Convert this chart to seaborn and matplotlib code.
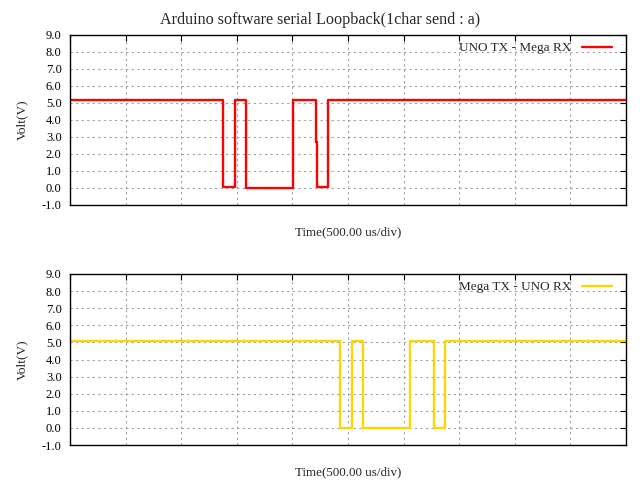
import matplotlib
matplotlib.use("Agg")
import matplotlib.pyplot as plt
import seaborn as sns
import numpy as np

# transition points of each trace (time in us, volts), step-post
uno_tx_t = [0, 1379, 1487, 1585, 2008, 2215, 2224, 2323, 5000]
uno_tx_v = [5.2, 0.05, 5.2, -0.02, 5.2, 2.7, 0.05, 5.2, 5.2]

mega_tx_t = [0, 2431, 2539, 2638, 3060, 3271, 3276, 3375, 5000]
mega_tx_v = [5.1, 0.02, 5.1, 0.0, 5.1, 0.8, 0.0, 5.1, 5.1]

traces = [
    ("UNO TX - Mega RX", uno_tx_t, uno_tx_v, "#ff0000"),
    ("Mega TX - UNO RX", mega_tx_t, mega_tx_v, "#ffd700"),
]

sns.set_style("white")
plt.rcParams['font.family'] = ['Liberation Serif', 'DejaVu Serif']

fig = plt.figure(figsize=(6.4, 4.8), dpi=100)
ax_top = fig.add_axes([70/640, 1 - 205/480, 556/640, 170/480])
ax_bot = fig.add_axes([70/640, 1 - 445/480, 556/640, 171/480])

for ax, (name, t, v, color) in zip([ax_top, ax_bot], traces):
    sns.lineplot(x=t, y=v, ax=ax, color=color, linewidth=1.7,
                 estimator=None, sort=False, drawstyle='steps-post', label=name)
    ax.set_xlim(0, 5000)
    ax.set_ylim(-1, 9)
    ax.set_xticks(np.arange(0, 5001, 500))
    ax.set_xticklabels([])
    ax.set_yticks(np.arange(-1, 9.1, 1))
    ax.set_yticklabels([f"{y:.1f}" for y in np.arange(-1, 9.1, 1)])
    ax.tick_params(direction='in', length=4, width=0.8, top=True, right=True,
                   labelsize=9, colors='black', pad=6)
    ax.grid(True, color='#a0a0a0', linestyle=(0, (2, 3)), linewidth=0.8)
    for s in ax.spines.values():
        s.set_color('black')
        s.set_linewidth(1.0)
    ax.set_ylabel("Volt(V)", fontsize=9.6, labelpad=10)
    ax.set_xlabel("Time(500.00 us/div)", fontsize=9.4, labelpad=9)
    ax.legend(loc='upper right', bbox_to_anchor=(1 - 6/556, 1 + 1/170),
              frameon=False, markerfirst=False, fontsize=9.5,
              handlelength=2.3, borderaxespad=0.2, handletextpad=0.8)

fig.suptitle("Arduino software serial Loopback(1char send : a)", fontsize=11.6, y=0.975)

fig.savefig("out.png", dpi=100)
